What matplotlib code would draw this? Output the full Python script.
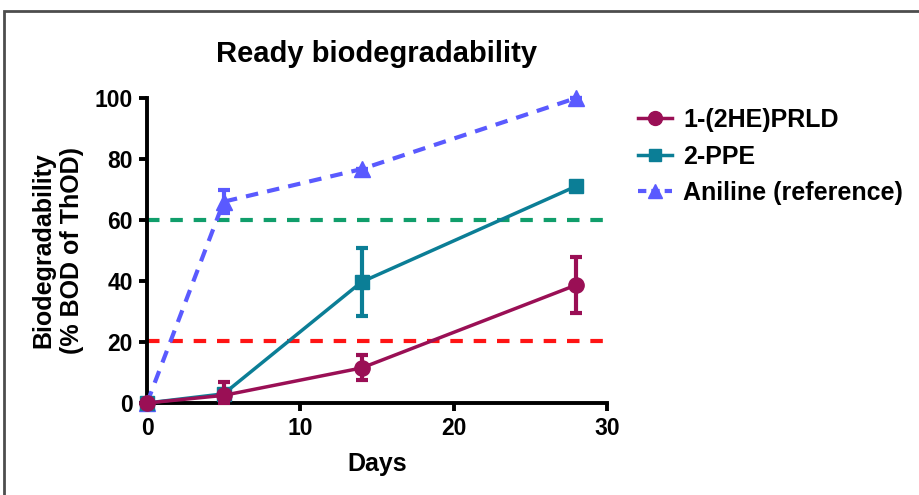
import matplotlib.pyplot as plt
from matplotlib.patches import Rectangle
from matplotlib.lines import Line2D
from matplotlib import font_manager

# Sampling days and measured biodegradability (% BOD of ThOD)
days = [0, 5, 14, 28]

prld_mean = [0, 2.5, 11.5, 38.7]
prld_err_lo = [0, 2.5, 4.1, 9.2]
prld_err_hi = [0, 4.5, 4.1, 9.2]

ppe_mean = [0, 3.0, 39.7, 71.1]
ppe_err = [0, 0, 11.2, 0]

aniline_mean = [0, 66.0, 76.7, 100.0]
aniline_err = [0, 3.8, 0, 0]

pass_level = 60      # ready biodegradability pass level
inhibition_level = 20.3

labels = ["1-(2HE)PRLD", "2-PPE", "Aniline (reference)"]

c_prld = "#9a0f55"
c_ppe = "#0b7e96"
c_anil = "#5a5aff"

names = {f.name for f in font_manager.fontManager.ttflist}
narrow = "Liberation Sans Narrow" if "Liberation Sans Narrow" in names else "Liberation Sans"
plt.rcParams["font.family"] = ["Liberation Sans", "DejaVu Sans"]
plt.rcParams["font.weight"] = "bold"

fig = plt.figure(figsize=(9.19, 4.95), dpi=100)
ax = fig.add_axes([147 / 919, 1 - 403 / 495, 460 / 919, 305 / 495])

# outer frame
fig.patches.append(Rectangle((4 / 919, -0.05), 1.2, 1 - 11 / 495 + 0.05,
                             transform=fig.transFigure, fill=False,
                             edgecolor="#4d4d4d", linewidth=2))

ax.axhline(pass_level, color="#109e6b", linestyle=(0, (3, 2.6)), linewidth=3, zorder=1)
ax.axhline(inhibition_level, color="#ff1414", linestyle=(0, (3, 2.6)), linewidth=3, zorder=1)

anil_dash = (0, (3, 2.2))
ax.errorbar(days, aniline_mean, yerr=aniline_err, color=c_anil, marker="^", markersize=11,
            linewidth=3, linestyle=anil_dash, capsize=4.5, capthick=3, elinewidth=3,
            clip_on=False, zorder=3)
ax.errorbar(days, ppe_mean, yerr=ppe_err, color=c_ppe, marker="s", markersize=10,
            linewidth=2.5, capsize=4.5, capthick=3, elinewidth=3,
            clip_on=False, zorder=4)
ax.errorbar(days, prld_mean, yerr=[prld_err_lo, prld_err_hi], color=c_prld, marker="o",
            markersize=11, linewidth=2.5, capsize=4.5, capthick=3, elinewidth=3,
            clip_on=False, zorder=5)

ax.set_xlim(0, 30)
ax.set_ylim(0, 100)
ax.set_xticks([0, 10, 20, 30])
ax.set_yticks([0, 20, 40, 60, 80, 100])
for s in ["top", "right"]:
    ax.spines[s].set_visible(False)
for s in ["left", "bottom"]:
    ax.spines[s].set_linewidth(2.8)
ax.tick_params(width=2.8, length=6, direction="out", pad=4)
for t in ax.get_xticklabels() + ax.get_yticklabels():
    t.set_fontfamily(narrow)
    t.set_fontweight("bold")
    t.set_fontsize(16.5)

ax.set_title("Ready biodegradability", fontsize=21, fontweight="bold", pad=26)
ax.set_xlabel("Days", fontsize=18, fontweight="bold", fontfamily=narrow, labelpad=9)
ax.set_ylabel("Biodegradability\n(% BOD of ThOD)", fontsize=18, fontweight="bold",
              labelpad=8, linespacing=1.25)

handles = [
    Line2D([], [], color=c_prld, marker="o", markersize=10, linewidth=2.5),
    Line2D([], [], color=c_ppe, marker="s", markersize=9, linewidth=2.5),
    Line2D([], [], color=c_anil, marker="^", markersize=10, linewidth=3, linestyle=(0, (2, 1.2))),
]
ax.legend(handles, labels, loc="upper left", bbox_to_anchor=(1.046, 1.0),
          borderaxespad=0, borderpad=0.4, frameon=False, fontsize=18,
          handlelength=1.36, handletextpad=0.45, labelspacing=0.5)

fig.savefig("out.png", dpi=100)
